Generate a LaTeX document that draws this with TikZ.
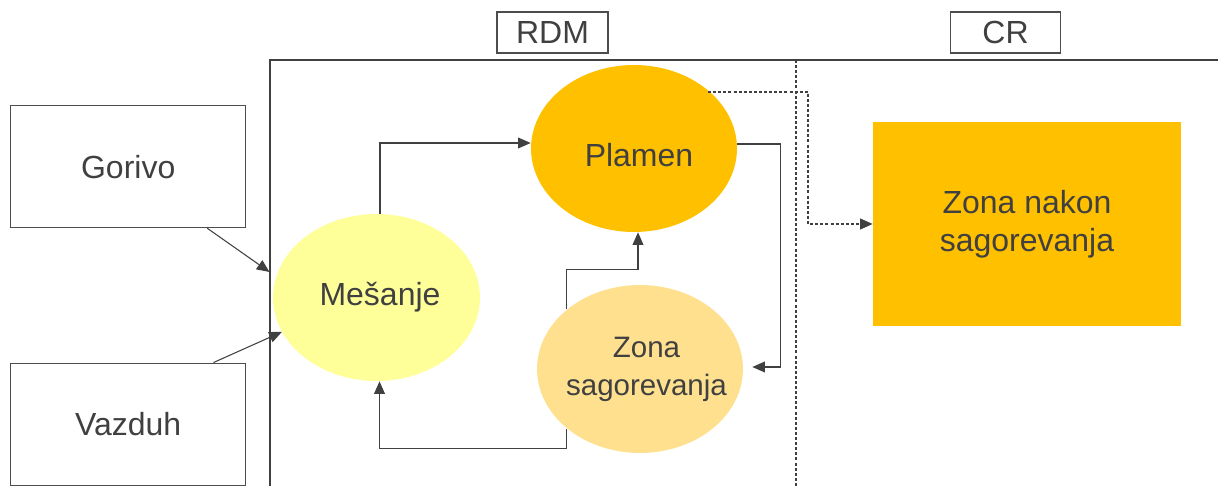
\documentclass[tikz,border=0pt]{standalone}
\usepackage{fontspec}
\setmainfont{Liberation Sans}
\usetikzlibrary{shapes.geometric,arrows.meta,calc}
\definecolor{ink}{HTML}{404040}
\definecolor{edge}{HTML}{4D4D4D}
\definecolor{flame}{HTML}{FFC000}
\definecolor{mixfill}{HTML}{FFFF99}
\definecolor{zonefill}{HTML}{FFE08F}
\begin{document}
\begin{tikzpicture}[x=0.02cm, y=-0.02cm,
  txt/.style={font=\fontsize{18.2}{21.6}\selectfont, text=ink, align=center},
  srcbox/.style={draw=edge, line width=0.6pt, inner sep=0pt,
    minimum width=4.7cm, minimum height=2.44cm, txt},
  zone/.style={ellipse, inner sep=0pt, minimum width=4.12cm, minimum height=3.34cm},
  tag/.style={draw=edge, line width=0.6pt, inner sep=0pt,
    minimum width=2.2cm, minimum height=0.82cm, txt},
  tip/.style={-{Triangle[length=7.2pt,width=6.2pt]}},
  conn/.style={draw=ink, line width=0.6pt, tip},
  dots/.style={draw=ink, line width=0.9pt, dash pattern=on 1.7pt off 1.2pt},
  frame/.style={draw=ink, line width=1.1pt}]
\useasboundingbox (0,0) rectangle (1218,486);

% enclosure of the two zones and the divider between them
\draw[frame] (270,490) -- (270,60) -- (1222,60);
\draw[dots] (796,60) -- (796,490);

% inputs
\node[srcbox] (gor) at (128.2,166.7) {Gorivo};
\node[srcbox, minimum height=2.45cm] (vaz) at (128.2,424.3) {Vazduh};

% process zones
\node[zone, minimum width=4.14cm, fill=mixfill] (mes) at (376.5,297.5) {};
\node[zone, fill=flame] (pla) at (634,148.5) {};
\node[zone, minimum height=3.36cm, fill=zonefill] (zon) at (640,369) {};
\node[txt] (mesT) at (380,297) {Mešanje};
\node[txt] (plaT) at (639,155) {Plamen};
\node[txt, font=\fontsize{16.8}{21.6}\selectfont] (zonT) at (646.5,369) {Zona\\sagorevanja};

\node[txt, fill=flame, inner sep=0pt, minimum width=6.16cm, minimum height=4.08cm]
  (nak) at (1027,224) {Zona nakon\\sagorevanja};

% section tags
\node[tag, minimum width=2.22cm] (rdm) at (552.5,32.5) {RDM};
\node[tag] (cr) at (1005.5,32.5) {CR};

% flows
\coordinate (gin) at (269.5,272);
\draw[conn] ($(gor.south east)+(-39,0)$) -- (gin);
\draw[conn] ($(vaz.north east)+(-32.7,0)$) -- (mes.200);
\draw[conn] ($(mes.north)+(3.5,0)$) |- ($(pla.west)+(0,-5.5)$);
\draw[conn] (zon.north west) -- ++(0,-40) -| ($(pla.south)+(4,0)$);
\draw[conn] (zon.south west) -- ++(0,20) -| ($(mes.south)+(3,0)$);
\draw[conn] ($(pla.east)+(0,-4.5)$) -- ++(43,0) |- ($(zon.east)+(9,-2)$);
\draw[dots, tip] ($(pla.north east)+(1,2.5)$) -- ++(100,0) |- (nak.west);
\end{tikzpicture}
\end{document}
